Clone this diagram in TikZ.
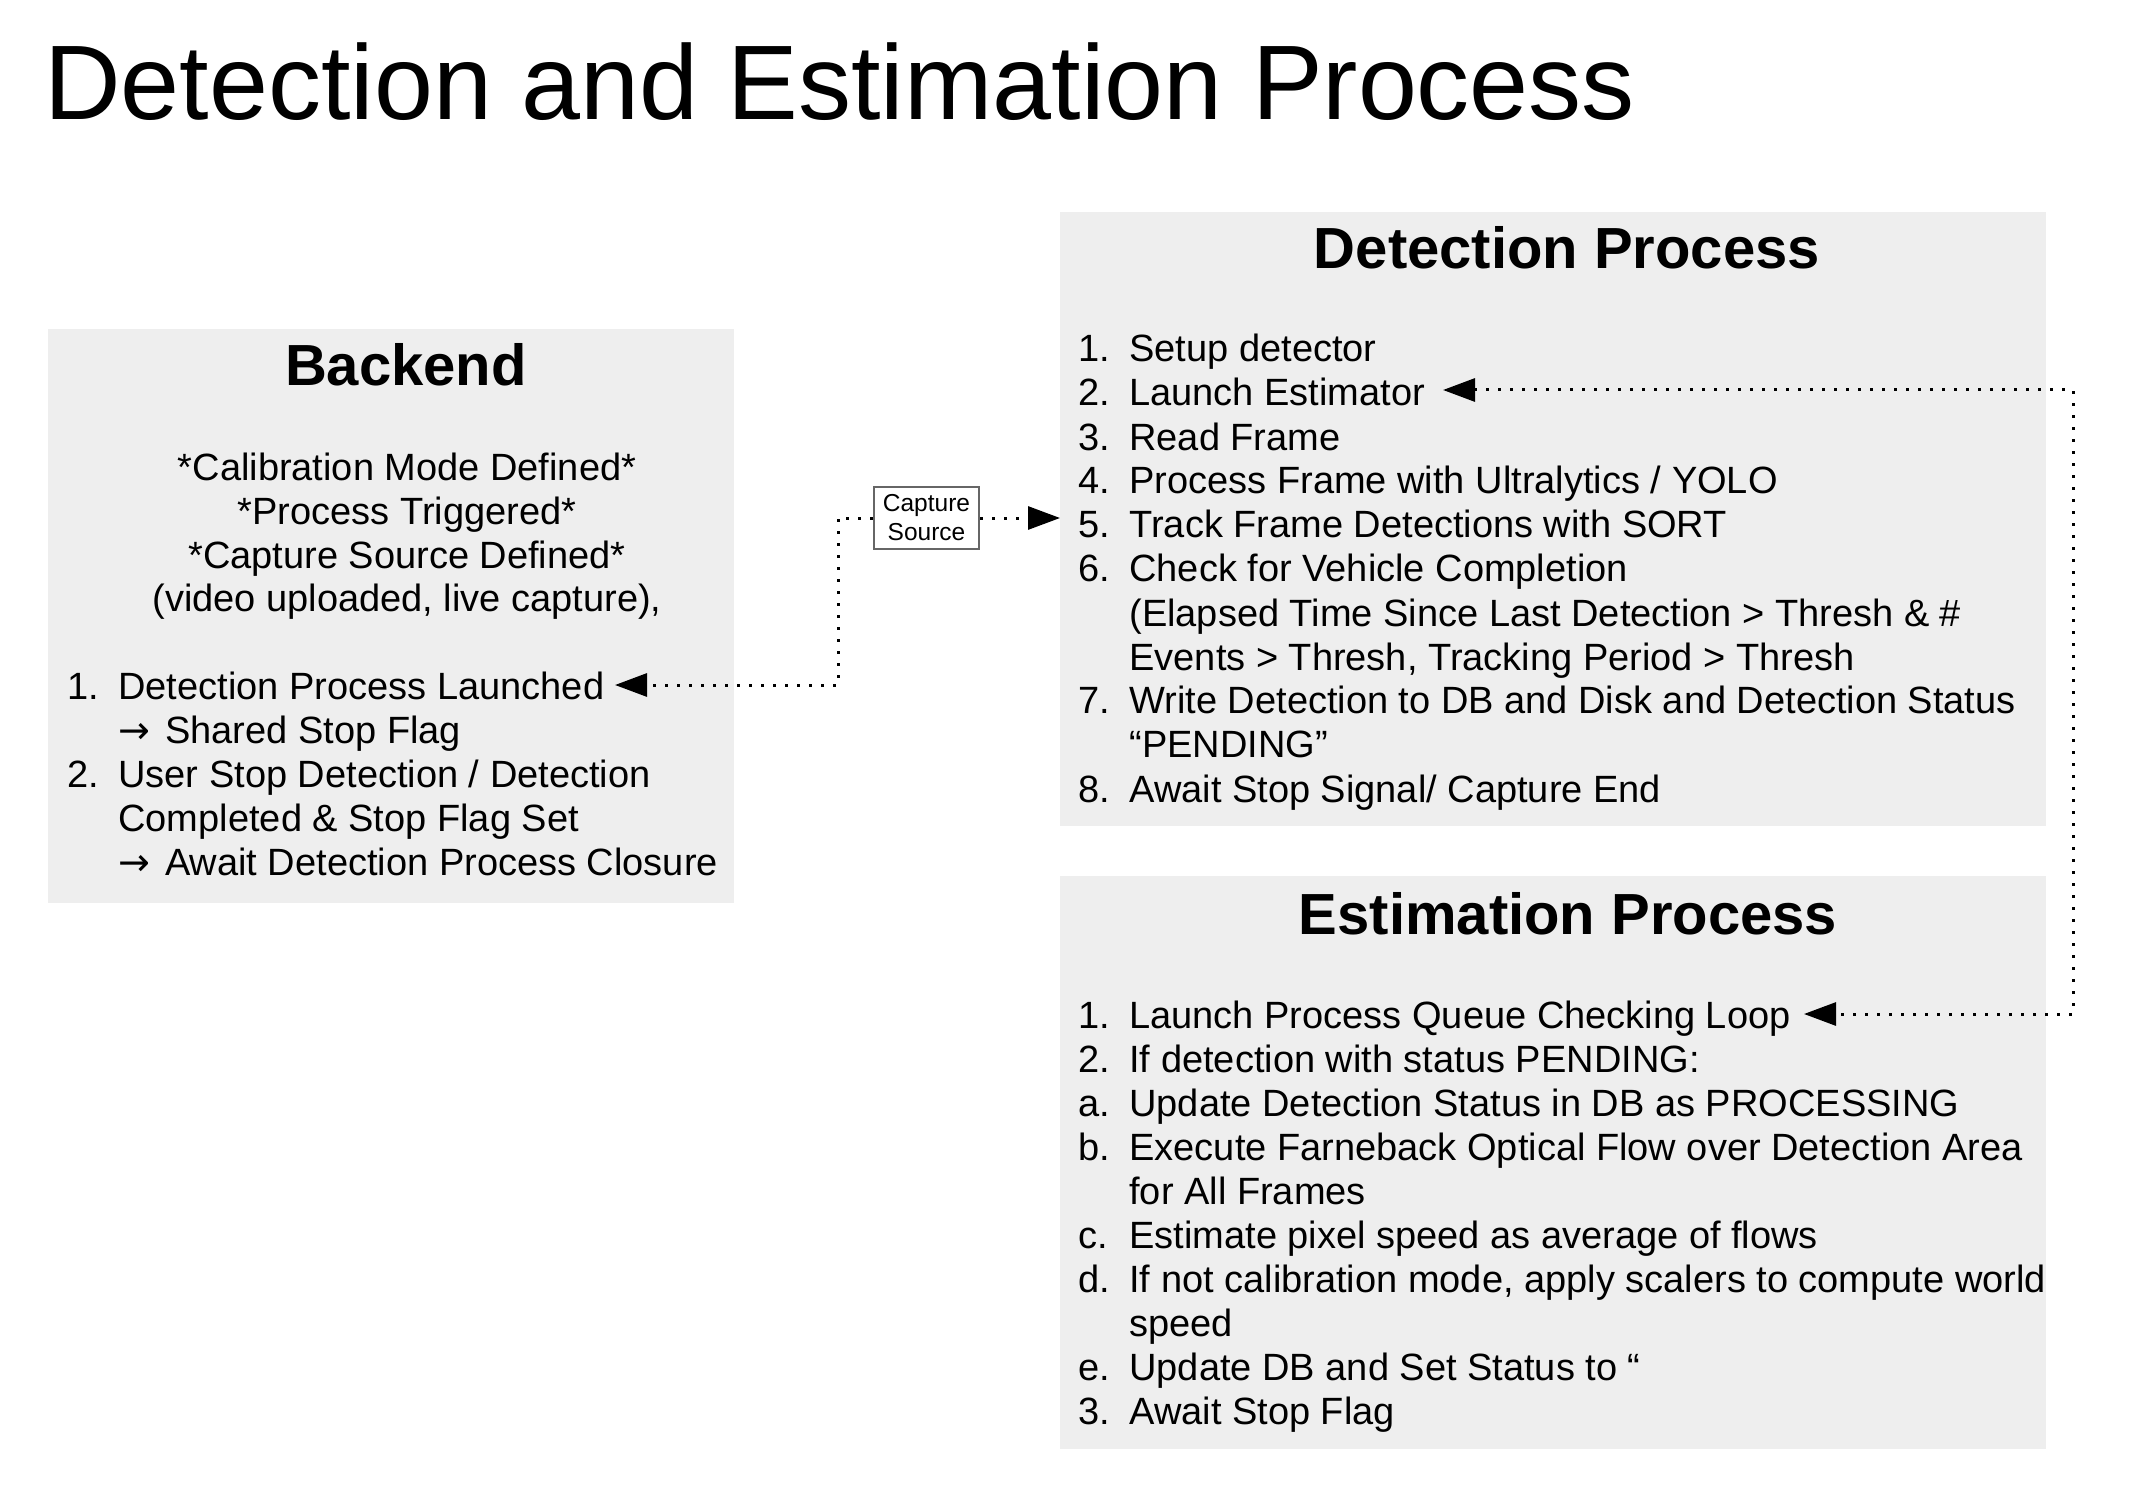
\documentclass[tikz,border=0pt]{standalone}
\usepackage{fontspec}
\setmainfont{Liberation Sans}
\newfontfamily\arrowfont{DejaVu Sans}
\usetikzlibrary{arrows.meta}
\definecolor{panelgray}{HTML}{EEEEEE}
\definecolor{capborder}{HTML}{666666}
\newcommand\nm[1]{\makebox[25.5pt][l]{#1}}
\newcommand\rarr{{\arrowfont →}\hspace{7.5pt}}
\begin{document}
\begin{tikzpicture}[x=0.5pt,y=-0.5pt,
  panel/.style={fill=panelgray,draw=none},
  body/.style={font=\fontsize{19}{22}\selectfont,inner sep=0pt,anchor=base west},
  cbody/.style={font=\fontsize{19}{22}\selectfont,inner sep=0pt,anchor=base},
  head/.style={font=\fontsize{29}{34}\selectfont\bfseries,inner sep=0pt,anchor=base},
  conn/.style={line width=1.5pt,dash pattern=on 1.5pt off 4.5pt,line cap=butt},
  tipend/.style={-{Triangle[length=16pt,width=11.5pt]}},
  tipboth/.style={{Triangle[length=16pt,width=11.5pt]}-{Triangle[length=16pt,width=11.5pt]}},
  capbox/.style={draw=capborder,line width=1.25pt,fill=white,minimum width=52.5pt,minimum height=31pt,inner sep=0pt,align=center,font=\fontsize{12.25}{14.5}\selectfont}
]
\useasboundingbox (0,0) rectangle (2140,1508);

% title
\node[inner sep=0pt,anchor=base west,font=\fontsize{53}{60}\selectfont] (title) at (44,120) {Detection and Estimation Process};

% panels
\path[panel] (48,329) rectangle (734,903);
\path[panel] (1060,212) rectangle (2046,826);
\path[panel] (1060,876) rectangle (2046,1449);

% Backend
\node[head] (bkhead) at (406,386) {Backend};
\node[cbody] (bkintro) at (407,480) {\begin{tabular}[t]{@{}c@{}}*Calibration Mode Defined*\\ \relax*Process Triggered*\\ \relax*Capture Source Defined*\\ (video uploaded, live capture),\end{tabular}};
\node[body] (bklist) at (67,699) {\begin{tabular}[t]{@{}l@{}l@{}}
\nm{1.} & Detection Process Launched\\
 & \rarr Shared Stop Flag\\
\nm{2.} & User Stop Detection / Detection\\
 & Completed \& Stop Flag Set\\
 & \rarr Await Detection Process Closure
\end{tabular}};

% Detection
\node[head] (dethead) at (1567,269) {Detection Process};
\node[body] (detlist) at (1078,362) {\begin{tabular}[t]{@{}l@{}l@{}}
\nm{1.} & Setup detector\\
\nm{2.} & Launch Estimator\\
\nm{3.} & Read Frame\\
\nm{4.} & Process Frame with Ultralytics / YOLO\\
\nm{5.} & Track Frame Detections with SORT\\
\nm{6.} & Check for Vehicle Completion\\
 & (Elapsed Time Since Last Detection > Thresh \& \#\\
 & Events > Thresh, Tracking Period > Thresh\\
\nm{7.} & Write Detection to DB and Disk and Detection Status\\
 & “PENDING”\\
\nm{8.} & Await Stop Signal/ Capture End
\end{tabular}};

% Estimation
\node[head] (esthead) at (1568,934) {Estimation Process};
\node[body] (estlist) at (1078,1028) {\begin{tabular}[t]{@{}l@{}l@{}}
\nm{1.} & Launch Process Queue Checking Loop\\
\nm{2.} & If detection with status PENDING:\\
\nm{a.} & Update Detection Status in DB as PROCESSING\\
\nm{b.} & Execute Farneback Optical Flow over Detection Area\\
 & for All Frames\\
\nm{c.} & Estimate pixel speed as average of flows\\
\nm{d.} & If not calibration mode, apply scalers to compute world\\
 & speed\\
\nm{e.} & Update DB and Set Status to “\\
\nm{3.} & Await Stop Flag
\end{tabular}};

% connector endpoints
\coordinate (bkTip) at (615,685);
\coordinate (detIn) at (1060,518);
\coordinate (detTip) at (1443,390);
\coordinate (estTip) at (1804,1014);
\coordinate (rail) at (2073,390);
\coordinate (bend) at (838,518);

% capture source
\node[capbox] (cap) at (926.5,518) {Capture\\Source};

\draw[conn,tipend] (cap.east) -- (detIn);
\draw[conn,tipend] (cap.west) -- (bend) |- (bkTip);
\draw[conn,tipboth] (detTip) -- (rail) |- (estTip);
\end{tikzpicture}
\end{document}
